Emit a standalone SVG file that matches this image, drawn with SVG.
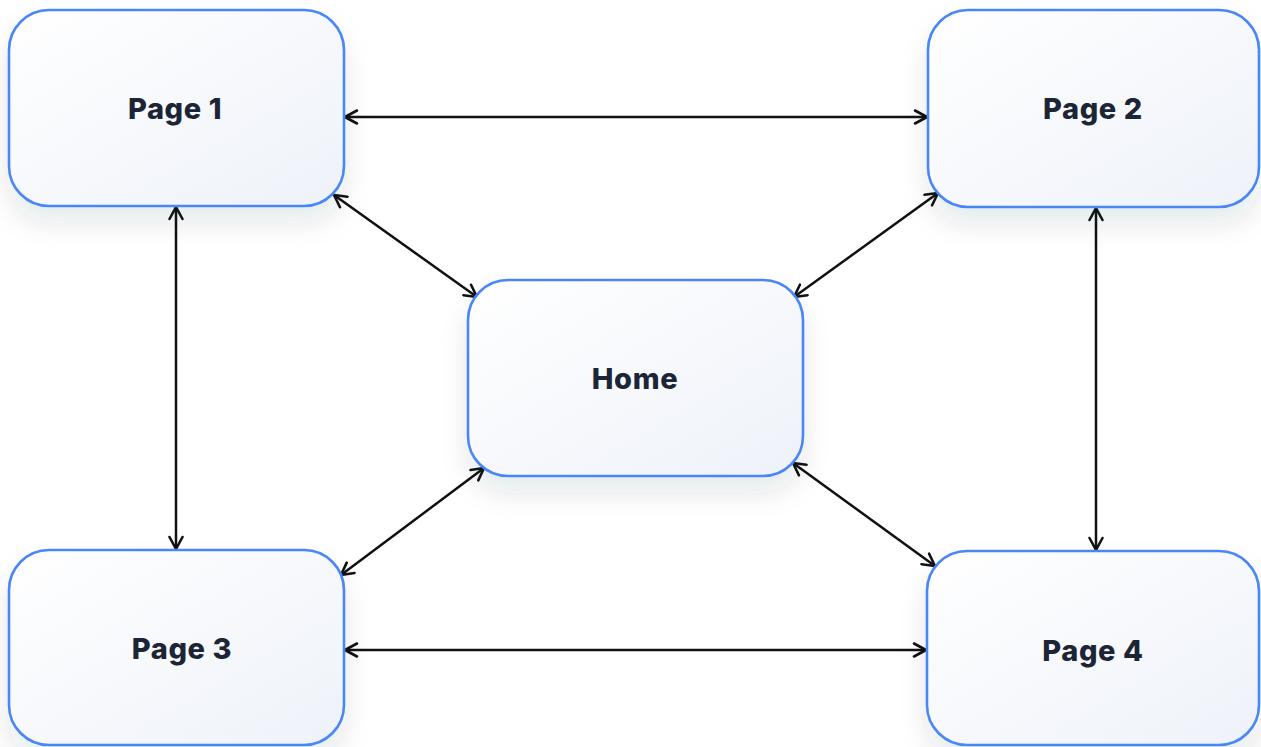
<svg xmlns="http://www.w3.org/2000/svg" width="1261" height="747" viewBox="0 0 1261 747">
<defs>
<linearGradient id="fillg" x1="0" y1="0" x2="1" y2="1">
<stop offset="0" stop-color="#ffffff"/>
<stop offset="1" stop-color="#eef2f9"/>
</linearGradient>
<filter id="sh" x="-20%" y="-20%" width="140%" height="160%">
<feDropShadow dx="0" dy="16" stdDeviation="13" flood-color="#1e293b" flood-opacity="0.10"/>
</filter>
<marker id="ah" viewBox="0 0 16 16" refX="14" refY="8" markerWidth="16" markerHeight="16" markerUnits="userSpaceOnUse" orient="auto-start-reverse">
<path d="M2,1.5 L14,8 L2,14.5" fill="none" stroke="#111111" stroke-width="2.6" stroke-linecap="round" stroke-linejoin="round"/>
</marker>
</defs>
<style>
.box{fill:url(#fillg);stroke:#4a86f7;stroke-width:2.6;filter:url(#sh)}
.lbl{font-family:Inter,"Open Sans","DejaVu Sans",sans-serif;font-weight:800;font-size:29px;letter-spacing:0.6px;fill:#1c2536;text-anchor:middle;dominant-baseline:central}
.con{stroke:#111111;stroke-width:2.5;fill:none;marker-start:url(#ah);marker-end:url(#ah)}
</style>
<rect width="1261" height="747" fill="#ffffff"/>
<g id="connectors">
<line class="con" x1="345" y1="117" x2="927" y2="117"/>
<line class="con" x1="345" y1="650" x2="926" y2="650"/>
<line class="con" x1="176" y1="207" x2="176" y2="549"/>
<line class="con" x1="1096" y1="208" x2="1096" y2="550"/>
<line class="con" x1="334" y1="195" x2="477" y2="297"/>
<line class="con" x1="938" y1="193" x2="794" y2="297"/>
<line class="con" x1="484" y1="468" x2="341" y2="575"/>
<line class="con" x1="793" y1="463" x2="935" y2="566"/>
</g>
<g id="page1">
<rect class="box" x="9" y="10" width="335" height="196" rx="40"/>
<text class="lbl" x="175" y="108">Page 1</text>
</g>
<g id="page2">
<rect class="box" x="928" y="10" width="331" height="197" rx="40"/>
<text class="lbl" x="1093" y="108">Page 2</text>
</g>
<g id="home">
<rect class="box" x="468" y="280" width="335" height="196" rx="40"/>
<text class="lbl" x="635" y="378">Home</text>
</g>
<g id="page3">
<rect class="box" x="9" y="550" width="335" height="195" rx="40"/>
<text class="lbl" x="182" y="648">Page 3</text>
</g>
<g id="page4">
<rect class="box" x="927" y="551" width="332" height="194" rx="40"/>
<text class="lbl" x="1093" y="650">Page 4</text>
</g>
</svg>
